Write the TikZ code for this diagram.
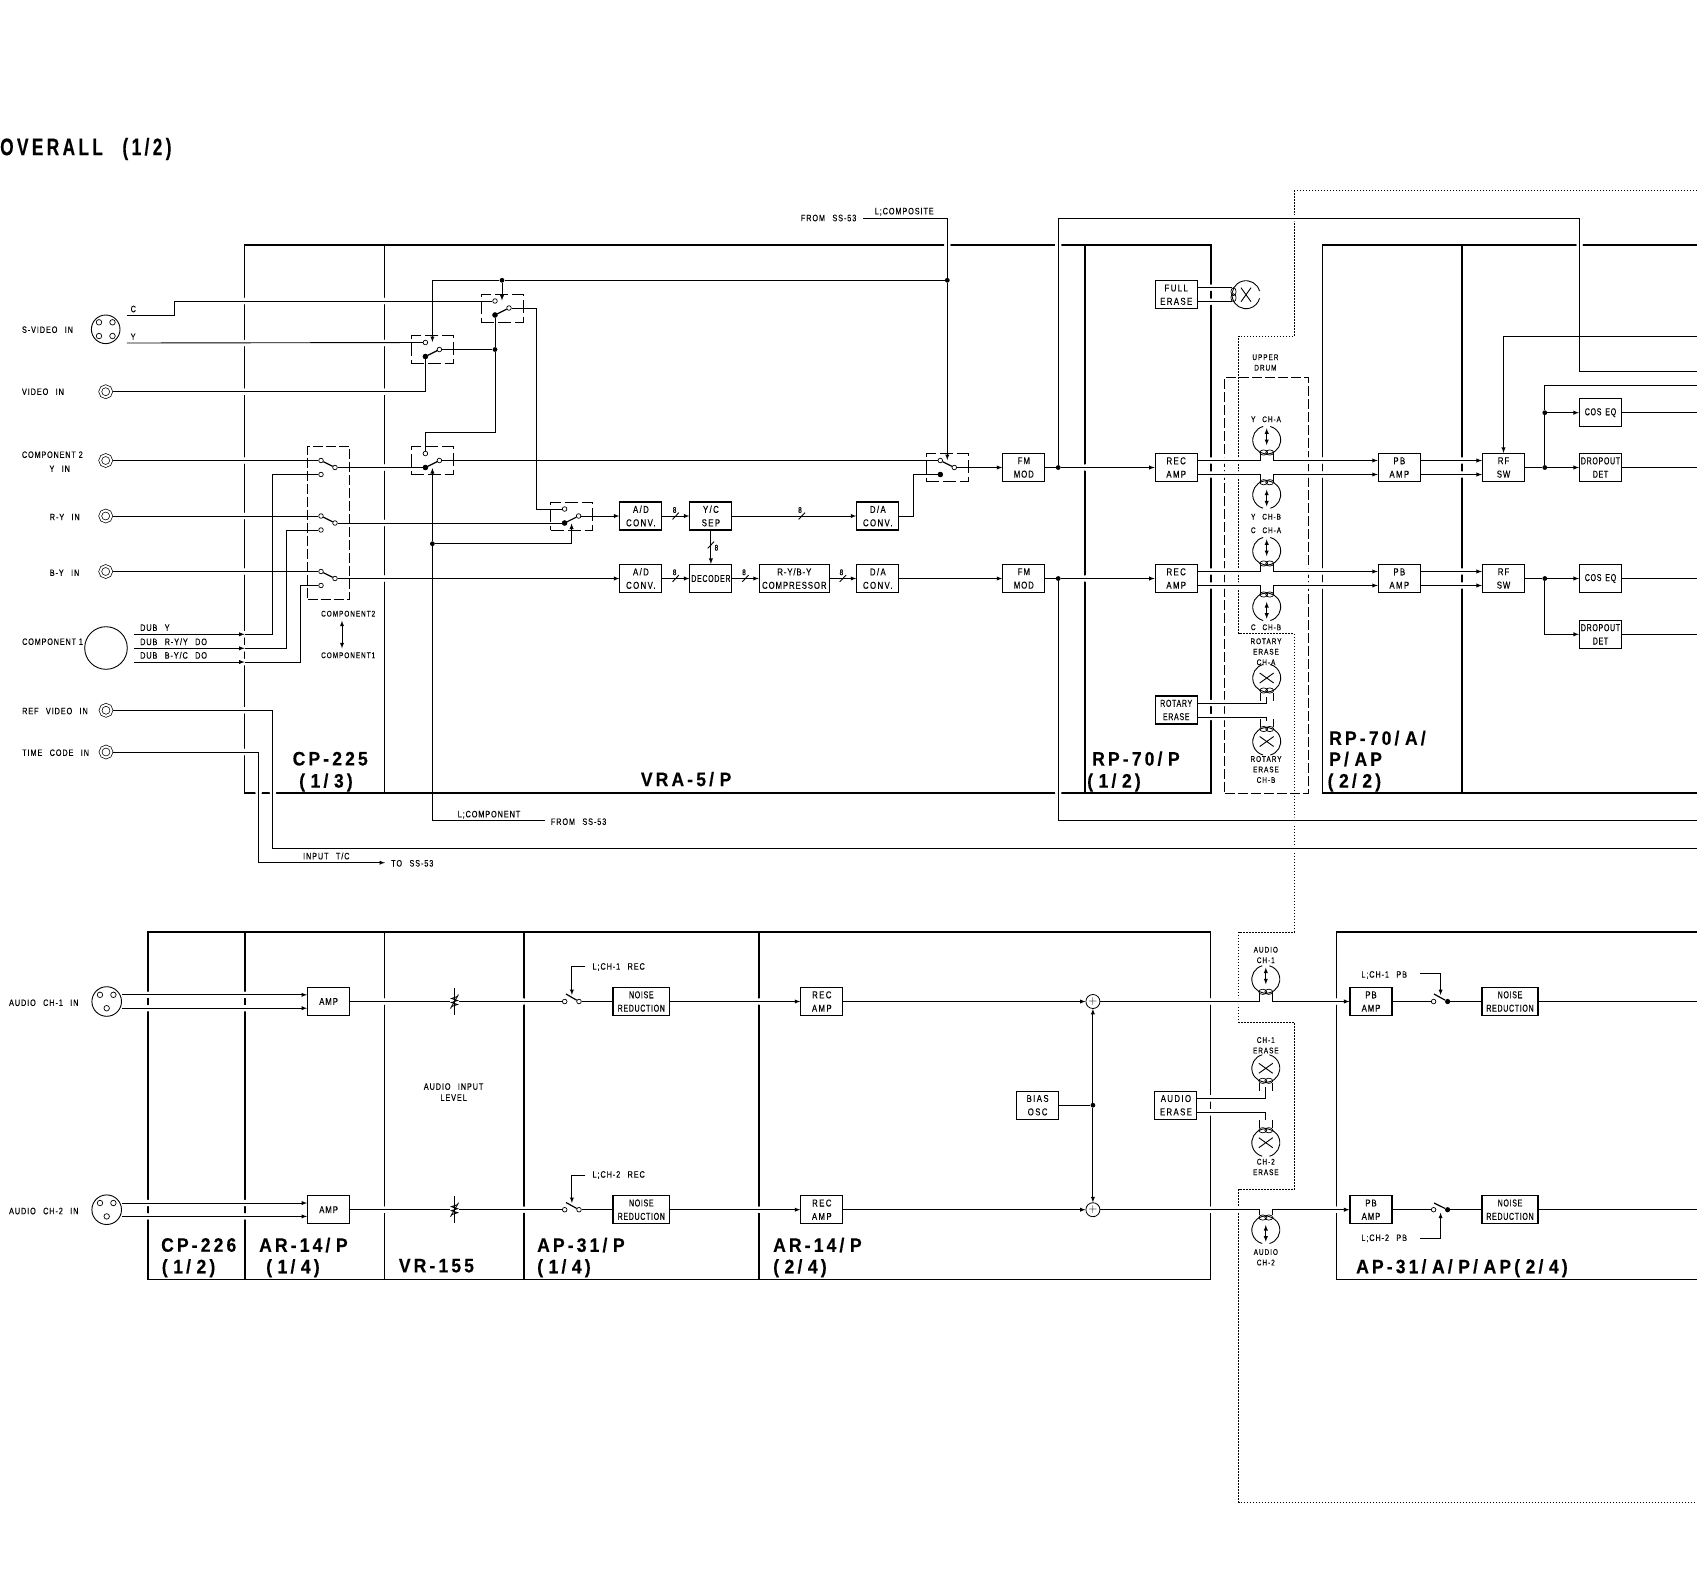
\documentclass[tikz,border=0pt]{standalone}
\usepackage{fontspec}
\usepackage{tikz}
\newfontfamily\lblfam[FakeStretch=0.78,LetterSpace=10,WordSpace=2.5,FakeBold=0.25]{Liberation Sans}
\newfontfamily\smlfam[FakeStretch=0.78,LetterSpace=12,WordSpace=2.5,FakeBold=0.2]{Liberation Sans}
\newfontfamily\blkfam[FakeStretch=0.78,LetterSpace=14,WordSpace=2,FakeBold=0.25]{Liberation Sans}
\newfontfamily\clofam[FakeStretch=0.78,LetterSpace=9,FakeBold=0.25]{Liberation Sans}
\newfontfamily\narfam[FakeStretch=0.70,LetterSpace=7,WordSpace=1.5,FakeBold=0.25]{Liberation Sans}
\newfontfamily\hdfam[FakeStretch=0.9,LetterSpace=16,WordSpace=0.7,FakeBold=0.3]{Liberation Sans}
\newfontfamily\ttlfam[FakeStretch=0.72,LetterSpace=14,WordSpace=2.4,FakeBold=0.3]{Liberation Sans}
\newcommand{\lblfont}{\fontsize{9.3}{11}\selectfont\lblfam}
\newcommand{\cpnfont}{\fontsize{9.3}{11}\selectfont\clofam}
\newcommand{\smlfont}{\fontsize{8.2}{10.5}\selectfont\smlfam}
\newcommand{\blkfont}{\fontsize{10}{13.4}\selectfont\blkfam}
\newcommand{\clofont}{\fontsize{10}{13.4}\selectfont\clofam}
\newcommand{\narfont}{\fontsize{10}{13.4}\selectfont\narfam}
\newcommand{\hdfont}{\fontsize{19.5}{22}\selectfont\hdfam\bfseries}
\newcommand{\ttlfont}{\fontsize{24}{26}\selectfont\ttlfam\bfseries}

\tikzset{
  head line/.style={line width=.9pt},
  tape spot/.style={circle,inner sep=0pt,minimum size=28pt}
}
% switch: box and its three contacts
\newcommand{\swbox}[3]{%
  \node[switch box] (#1) at (#2,#3) {};
  \node[contact node] (#1a) at (#2-7,#3-7) {};
  \node[contact node] (#1b) at (#2-7,#3+7) {};
  \node[contact node] (#1c) at (#2+7,#3) {};
  \coordinate (#1t) at (#2,#3-7.5);
  \coordinate (#1u) at (#2,#3+7.5);
}
% tape head: open circle and gap lens, turned by #4
\newcommand{\headbody}[4]{%
  \node[tape spot] (#1) at (#2,#3) {};
  \begin{scope}[shift={(#2,#3)},rotate=#4]
    \draw[head line] (105:14pt) arc[start angle=105,end angle=435,radius=14pt];
    \draw[line width=.7pt] (-3pt,-12.5pt) ellipse[x radius=4pt,y radius=2.6pt]
      (3pt,-12.5pt) ellipse[x radius=4pt,y radius=2.6pt];
  \end{scope}
}
\newcommand{\rwhead}[4]{%
  \headbody{#1}{#2}{#3}{#4}
  \begin{scope}[shift={(#2,#3)},rotate=#4]
    \draw[head line,<->] (0pt,11.7pt) -- (0pt,-5pt);
  \end{scope}
}
\newcommand{\erhead}[4]{%
  \headbody{#1}{#2}{#3}{#4}
  \begin{scope}[shift={(#2,#3)},rotate=#4]
    \draw[head line] (-7pt,-5pt) -- (7pt,5pt) (-7pt,5pt) -- (7pt,-5pt);
  \end{scope}
}
\newcommand{\ertick}[3]{%
  \begin{scope}[shift={(#1,#2)},rotate=#3]
    \draw[line width=.7pt] (-6.7pt,-15pt) -- (-6.7pt,-23pt) (6.7pt,-15pt) -- (6.7pt,-23pt);
  \end{scope}
}
% level pot on the audio line
\newcommand{\potsym}[3]{%
  \node[inner sep=0pt,minimum width=9pt,minimum height=27pt] (#1) at (#2,#3) {};
  \draw[wire] (#2,#3-13.5) -- (#2,#3+13.5);
  \draw[wire] (#2-3,#3+5) -- (#2+3,#3+3) -- (#2-3,#3+1) -- (#2+3,#3-1) -- (#2-3,#3-3) -- (#2+3,#3-5);
  \draw[wire] (#2-4,#3+7) -- (#2+4,#3-7);
}

\begin{document}
\begin{tikzpicture}[x=1pt,y=-1pt,>=latex,
    wire/.style={line width=.9pt,draw},
    frame line/.style={line width=1.6pt},
    arm/.style={line width=1.2pt},
    block node/.style={rectangle,draw,line width=1.1pt,inner sep=0pt,minimum width=42pt,
      minimum height=28pt,align=center,font=\blkfont},
    tight/.style={font=\narfont},
    close/.style={font=\clofont},
    contact node/.style={circle,draw,fill=white,line width=.7pt,inner sep=0pt,minimum size=4.6pt},
    pole node/.style={circle,fill=black,inner sep=0pt,minimum size=5.2pt},
    dot node/.style={circle,fill=black,inner sep=0pt,minimum size=4.8pt},
    jack node/.style={circle,draw,line width=.7pt,double,double distance=2pt,inner sep=0pt,
      minimum size=11pt,outer sep=1.5pt},
    conn node/.style={circle,draw,line width=.9pt,inner sep=0pt},
    pin node/.style={circle,draw,line width=.7pt,inner sep=0pt,minimum size=5.5pt},
    sum node/.style={circle,draw,line width=.8pt,inner sep=0pt,minimum size=14pt,
      font=\fontsize{12}{12}\selectfont},
    switch box/.style={rectangle,draw,line width=1pt,dash pattern=on 13pt off 4pt,inner sep=0pt,
      minimum width=42pt,minimum height=28pt},
    dash box/.style={rectangle,draw,line width=.9pt,dash pattern=on 10pt off 3pt,inner sep=0pt},
    dot line/.style={line width=.7pt,dash pattern=on 1.5pt off 1.5pt},
    label node/.style={font=\lblfont,inner sep=0pt,anchor=west},
    small node/.style={font=\smlfont,inner sep=0pt,align=center},
    bus node/.style={font=\smlfont,inner sep=0pt},
    head node/.style={font=\hdfont,inner sep=0pt,anchor=west}]

  \useasboundingbox (0,0) rectangle (1697,1588);
  \coordinate (rightedge) at (1697,0);

  \node[font=\ttlfont,inner sep=0pt,anchor=west] (title) at (0,149) {OVERALL (1/2)};

  % frames
  \draw[frame line] (244.6,245) rectangle (1211,792.7);
  \draw[frame line] (384.3,245) -- (384.3,792.7);
  \draw[frame line] (1085.2,245) -- (1085.2,792.7);
  \draw[frame line] (1697,245) -- (1322.4,245) -- (1322.4,792.7) -- (1697,792.7);
  \draw[frame line] (1461.9,245) -- (1461.9,792.7);
  \draw[frame line] (147.8,932) rectangle (1210.5,1279.3);
  \foreach \fx in {245,384.4,523.7,759.1}
    \draw[frame line] (\fx,932) -- (\fx,1279.3);
  \draw[frame line] (1697,932) -- (1336.4,932) -- (1336.4,1279.3) -- (1697,1279.3);

  \node[dash box,minimum width=83.7pt,minimum height=415.7pt] (drum) at (1266.65,585.15) {};
  \node[dash box,minimum width=41.8pt,minimum height=152.6pt] (sel) at (328.4,523) {};
  \draw[dot line] (1697,190.7) -- (1294.3,190.7) -- (1294.3,336) -- (1238.6,336) -- (1238.6,633.5)
    -- (1294.3,633.5) -- (1294.3,932) -- (1238.5,932) -- (1238.5,1022) -- (1294.3,1022)
    -- (1294.3,1189.3) -- (1238.5,1189.3) -- (1238.5,1502) -- (1697,1502);

  % breaks where wires cross the frames
  \foreach \gx/\gy in {244.6/301,244.6/343,244.6/391.7,244.6/460.5,244.6/516,244.6/571.5,
      244.6/634.3,244.6/648.3,244.6/662,244.6/710.3,244.6/752,
      258.6/792.7,272.9/792.7,1058.2/792.7,947.3/245,1058.2/245,1579.6/245,
      384.3/301,384.3/343,384.3/391.7,384.3/467.5,384.3/523,384.3/578.5,
      1085.2/467.5,1085.2/578.5,1211/287.7,1211/301.7,1211/460.5,1211/474.5,1211/571.5,1211/585.5,
      1211/703,1211/717,1224.8/460.5,1224.8/474.5,1224.8/571.5,1224.8/585.5,1224.8/703,1224.8/717,
      1238.6/460.5,1238.6/474.5,1238.6/571.5,1238.6/585.5,
      1308.5/460.5,1308.5/474.5,1308.5/571.5,1308.5/585.5,
      1322.4/460.5,1322.4/474.5,1322.4/571.5,1322.4/585.5,
      1461.9/460.5,1461.9/474.5,1461.9/571.5,1461.9/585.5,1294.3/218.3,1294.3/820.7,1294.3/848.3,
      147.8/994.8,147.8/1008.2,147.8/1203,147.8/1216.4,245/994.8,245/1008.2,245/1203,245/1216.4,
      384.4/1001.5,384.4/1209.7,523.7/1001.5,523.7/1209.7,759.1/1001.5,759.1/1209.7,
      1210.5/1001.5,1210.5/1098.3,1210.5/1112.3,1210.5/1209.7,
      1238.5/1001.5,1238.5/1209.7,1336.4/1001.5,1336.4/1209.7}
    \fill[white] (\gx,\gy) circle (3.3pt);

  % connectors on the left
  \node[conn node,minimum size=28.6pt] (svideo) at (105.7,329.3) {};
  \foreach \px/\py [count=\k] in {99/322.3,112.5/322.3,99/336,112.5/336}
    \node[pin node] (svpin\k) at (\px,\py) {};
  \node[jack node] (jvideo) at (105.7,391.7) {};
  \node[jack node] (jcomp) at (105.7,460.5) {};
  \node[jack node] (jry) at (105.7,516) {};
  \node[jack node] (jby) at (105.7,571.5) {};
  \node[conn node,minimum size=42.6pt] (compone) at (106,648) {};
  \node[jack node] (jref) at (106,710.3) {};
  \node[jack node] (jtime) at (106,752) {};
  \node[conn node,minimum size=29.6pt] (xlra) at (106.7,1001.5) {};
  \node[conn node,minimum size=29.6pt] (xlrb) at (106.7,1209.7) {};
  \foreach \py [count=\k] in {1001.5,1209.7} {
    \node[pin node] (xpl\k) at (100,\py-6.7) {};
    \node[pin node] (xpr\k) at (113.4,\py-6.7) {};
    \node[pin node] (xpb\k) at (106.7,\py+6.7) {};
  }

  \node[label node] (lsv) at (21.8,329.7) {S-VIDEO IN};
  \node[label node] (lvid) at (21.8,391.7) {VIDEO IN};
  \node[label node,font=\cpnfont] (lcomp) at (21.8,454.7) {COMPONENT 2};
  \node[label node] (lyin) at (49.3,468.7) {Y IN};
  \node[label node] (lry) at (49.6,517) {R-Y IN};
  \node[label node] (lby) at (49.6,572.7) {B-Y IN};
  \node[label node,font=\cpnfont] (lcone) at (22,641.7) {COMPONENT 1};
  \node[label node] (lref) at (22,711) {REF VIDEO IN};
  \node[label node] (ltc) at (22,752.7) {TIME CODE IN};
  \node[label node] (lc) at (130.5,309) {C};
  \node[label node] (ly) at (130.5,336.7) {Y};
  \node[label node] (ldy) at (140,627.7) {DUB Y};
  \node[label node] (ldr) at (140,641.7) {DUB R-Y/Y DO};
  \node[label node] (ldb) at (140,655.3) {DUB B-Y/C DO};
  \node[label node,font=\smlfont] (lctwo) at (321,613.7) {COMPONENT2};
  \node[label node,font=\smlfont] (lcon) at (321,655.3) {COMPONENT1};
  \node[label node] (laudone) at (8.9,1002.7) {AUDIO CH-1 IN};
  \node[label node] (laudtwo) at (8.9,1211) {AUDIO CH-2 IN};

  % switches
  \swbox{swc}{502}{308}
  \swbox{swy}{432.4}{349.5}
  \swbox{swp}{432.4}{460.5}
  \swbox{swr}{571.6}{516}
  \swbox{swf}{947.3}{467.5}
  \node[pole node] (pc) at (swcb) {};
  \node[pole node] (py) at (swyb) {};
  \node[pole node] (pp) at (swpb) {};
  \node[pole node] (pr) at (swrb) {};
  \node[pole node] (pf) at (swfb) {};
  \foreach \sy/\sn in {460.5/a,516/b,571.5/c} {
    \node[contact node] (sel\sn u) at (321,\sy) {};
    \node[contact node] (sel\sn l) at (321,\sy+14) {};
    \node[contact node] (sel\sn o) at (335,\sy+7) {};
    \draw[arm] (sel\sn u) -- (sel\sn o);
  }
  \draw[arm] (swcb) -- (swcc);
  \draw[arm] (swyb) -- (swyc);
  \draw[arm] (swpb) -- (swpc);
  \draw[arm] (swrb) -- (swrc);
  \draw[arm] (swfa) -- (swfc);

  % upper chain
  \node[block node] (ada) at (640.9,516) {A/D\\CONV.};
  \node[block node] (yc) at (710.9,516) {Y/C\\SEP};
  \node[block node] (daa) at (877.8,516) {D/A\\CONV.};
  \node[block node] (adb) at (640.9,578.5) {A/D\\CONV.};
  \node[block node,tight] (dec) at (710.9,578.5) {DECODER};
  \node[block node,close,minimum width=70pt] (rbcomp) at (794.3,578.5) {R-Y/B-Y\\COMPRESSOR};
  \node[block node] (dab) at (877.8,578.5) {D/A\\CONV.};
  \node[block node,close] (fma) at (1023.8,467.5) {FM\\MOD};
  \node[block node,close] (fmb) at (1023.8,578.5) {FM\\MOD};
  \node[block node] (fulle) at (1176.2,294.7) {FULL\\ERASE};
  \node[block node] (reca) at (1176.2,467.5) {REC\\AMP};
  \node[block node] (recb) at (1176.2,578.5) {REC\\AMP};
  \node[block node,tight] (rote) at (1176.2,710) {ROTARY\\ERASE};
  \node[block node] (pba) at (1399.3,467.5) {PB\\AMP};
  \node[block node] (pbb) at (1399.3,578.5) {PB\\AMP};
  \node[block node,close] (rfa) at (1503.5,467.5) {RF\\SW};
  \node[block node,close] (rfb) at (1503.5,578.5) {RF\\SW};
  \node[block node,tight] (cosa) at (1600.5,412.7) {COS EQ};
  \node[block node,tight] (dropa) at (1600.5,467.5) {DROPOUT\\DET};
  \node[block node,tight] (cosb) at (1600.5,578.5) {COS EQ};
  \node[block node,tight] (dropb) at (1600.5,634.3) {DROPOUT\\DET};

  \node[dot node] (dotv) at (495,349.5) {};
  \node[dot node] (dots) at (502,280.3) {};
  \node[dot node] (dotf) at (947.3,280.3) {};
  \node[dot node] (dotr) at (432.4,543.7) {};
  \node[dot node] (dotfa) at (1058.2,467.5) {};
  \node[dot node] (dotfb) at (1058.2,578.5) {};
  \node[dot node] (dotra) at (1544.8,467.5) {};
  \node[dot node] (dotrb) at (1544.8,412.7) {};
  \node[dot node] (dotsb) at (1544.8,578.5) {};

  \coordinate (cwire) at (126.8,315.3);
  \coordinate (ywire) at (126.8,343);
  \coordinate (bendv) at (495,432.7);
  \coordinate (dubas) at (134,634.3);
  \coordinate (dubbs) at (134,648.3);
  \coordinate (dubcs) at (134,662);
  \coordinate (dubam) at (244.6,634.3);
  \coordinate (dubbm) at (244.6,648.3);
  \coordinate (dubcm) at (244.6,662);
  \coordinate (compfrom) at (863.2,218);
  \coordinate (compofrom) at (544.6,820.7);
  \coordinate (tccorner) at (258.6,862.7);
  \coordinate (tcend) at (385,862.7);
  \coordinate (refcorner) at (272.9,848.3);
  \coordinate (refend) at (1697,848.3);
  \coordinate (topa) at (1579.6,218.3);
  \coordinate (topb) at (1697,371.3);
  \coordinate (botb) at (1697,820.7);
  \coordinate (rfin) at (1697,336.3);
  \coordinate (eqin) at (1697,385);
  \coordinate (arrowtop) at (342,620.7);
  \coordinate (arrowbot) at (342,648.3);

  \draw[wire] (cwire) -- ++(47.8,0) |- (swca);
  \path[wire] (ywire) edge (swya);
  \draw[wire] (jvideo) -| (swyb);
  \path[wire] (jcomp) edge (selau) (jry) edge (selbu) (jby) edge (selcu)
    (selao) edge (swpb) (selbo) edge (swrb) (swyc) edge (dotv) (dotv) edge (swcb)
    (swpc) edge (swfa);
  \draw[wire] (swpa) |- (bendv) -- (dotv);
  \draw[wire] (swcc) -- ++(27.7,0) |- (swra);
  \draw[wire,->] (dubas) -- (dubam);
  \draw[wire,->] (dubbs) -- (dubbm);
  \draw[wire,->] (dubcs) -- (dubcm);
  \draw[wire] (dubam) -- ++(27.9,0) |- (selal);
  \draw[wire] (dubbm) -- ++(41.8,0) |- (selbl);
  \draw[wire] (dubcm) -- ++(55.8,0) |- (selcl);
  \draw[wire] (compfrom) -| (dotf);
  \draw[wire,->] (dotf) -- (swft);
  \draw[wire] (dotf) -- (dots);
  \draw[wire,->] (dots) -- (swct);
  \draw[wire,->] (dots) -| (swyt);
  \draw[wire] (compofrom) -| (dotr);
  \draw[wire,->] (dotr) -- (swpu);
  \draw[wire,->] (dotr) -| (swru);
  \draw[wire] (jref) -| (refcorner) -- (refend);
  \draw[wire,->] (jtime) -| (tccorner) -- (tcend);

  \path[wire,->] (swrc) edge (ada) (ada) edge (yc) (yc) edge (daa) (yc) edge (dec)
    (selco) edge (adb) (adb) edge (dec) (dec) edge (rbcomp) (rbcomp) edge (dab) (dab) edge (fmb)
    (swfc) edge (fma) (dotfa) edge (reca) (dotfb) edge (recb);
  \draw[wire] (daa.east) -- ++(14,0) |- (swfb);
  \path[wire] (fma) edge (dotfa) (fmb) edge (dotfb);
  \draw[wire] (dotfa) |- (topa) |- (topb);
  \draw[wire] (dotfb) |- (botb);

  \foreach \bx/\by in {675.7/516,801.8/516,710.9/545,675.7/578.5,745.4/578.5,842.9/578.5}
    \draw[wire] (\bx,\by) ++(-3.2,3.4) -- ++(6.4,-6.8);
  \foreach \bx/\by [count=\k] in {674.6/510,800/510,716.4/547.7,674.6/572.3,744/572.3,841.4/572.3}
    \node[bus node] (bus\k) at (\bx,\by) {8};
  \draw[wire,<->] (arrowtop) -- (arrowbot);

  % upper drum heads
  \rwhead{yah}{1266.7}{440}{0}
  \rwhead{ybh}{1266.7}{494.7}{180}
  \rwhead{cah}{1266.7}{551}{0}
  \rwhead{cbh}{1266.7}{607}{180}
  \erhead{fullh}{1246}{294.7}{-90}
  \erhead{rah}{1266.7}{678}{0}
  \erhead{rbh}{1266.7}{741.5}{180}
  \ertick{1266.7}{678}{0}
  \ertick{1266.7}{741.5}{180}
  \foreach \hn/\hx/\hy in {ya/1266.7/452.7,yb/1266.7/482.7,ca/1266.7/563.7,cb/1266.7/595,
      ac/1265.8/993.3,ad/1265.8/1215} {
    \coordinate (\hn l) at (\hx-6.7,\hy);
    \coordinate (\hn r) at (\hx+6.7,\hy);
  }
  \coordinate (rotu) at (1266.7,696.7);
  \coordinate (rotd) at (1266.7,720.7);

  \draw[wire] ([yshift=7pt]reca.east) -| (yal);
  \draw[wire] ([yshift=-7pt]reca.east) -| (ybl);
  \draw[wire] ([yshift=7pt]recb.east) -| (cal);
  \draw[wire] ([yshift=-7pt]recb.east) -| (cbl);
  \draw[wire,->] (yar) |- ([yshift=7pt]pba.west);
  \draw[wire,->] (ybr) |- ([yshift=-7pt]pba.west);
  \draw[wire,->] (car) |- ([yshift=7pt]pbb.west);
  \draw[wire,->] (cbr) |- ([yshift=-7pt]pbb.west);
  \draw[wire,->] ([yshift=7pt]pba.east) -- ([yshift=7pt]rfa.west);
  \draw[wire,->] ([yshift=-7pt]pba.east) -- ([yshift=-7pt]rfa.west);
  \draw[wire,->] ([yshift=7pt]pbb.east) -- ([yshift=7pt]rfb.west);
  \draw[wire,->] ([yshift=-7pt]pbb.east) -- ([yshift=-7pt]rfb.west);
  \draw[wire] ([yshift=7pt]fulle.east) -- ([yshift=7pt]fullh.west);
  \draw[wire] ([yshift=-7pt]fulle.east) -- ([yshift=-7pt]fullh.west);
  \draw[wire] ([yshift=7pt]rote.east) -| (rotu);
  \draw[wire] ([yshift=-7pt]rote.east) -| (rotd);

  \draw[wire,->] (rfin) -| (rfa);
  \path[wire] (rfa) edge (dotra) (rfb) edge (dotsb) (dotra) edge (dotrb);
  \path[wire,->] (dotra) edge (dropa) (dotrb) edge (cosa) (dotsb) edge (cosb);
  \draw[wire] (dotrb) |- (eqin);
  \draw[wire,->] (dotsb) |- (dropb);
  \foreach \bn in {cosa,dropa,cosb,dropb}
    \draw[wire] (\bn) -- (\bn -| rightedge);

  \node[small node] (udrum) at (1265.4,362.5) {UPPER\\DRUM};
  \node[small node] (lyah) at (1266,419.3) {Y CH-A};
  \node[small node] (lybh) at (1266,516.7) {Y CH-B};
  \node[small node] (lcah) at (1266,530.3) {C CH-A};
  \node[small node] (lcbh) at (1266,627.3) {C CH-B};
  \node[small node] (lrah) at (1266,651.8) {ROTARY\\ERASE\\CH-A};
  \node[small node] (lrbh) at (1266,769.5) {ROTARY\\ERASE\\CH-B};

  \node[label node] (lfrom) at (800.7,218) {FROM SS-53};
  \node[label node] (lcompo) at (874.6,211.7) {L;COMPOSITE};
  \node[label node] (lcpn) at (457.5,814.7) {L;COMPONENT};
  \node[label node] (lfromb) at (550.7,821.7) {FROM SS-53};
  \node[label node] (linp) at (302.9,856) {INPUT T/C};
  \node[label node] (lto) at (391,863.3) {TO SS-53};

  \node[head node] (hcp) at (292.5,758.7) {CP-225};
  \node[head node] (hcpn) at (299,782.5) {( 1/ 3)};
  \node[head node] (hvra) at (640.7,779.2) {VRA-5/ P};
  \node[head node] (hrp) at (1092,758.7) {RP-70/ P};
  \node[head node] (hrpn) at (1087,782.5) {( 1/ 2)};
  \node[head node] (hrq) at (1329,738) {RP-70/ A/};
  \node[head node] (hrqa) at (1329,759) {P/ AP};
  \node[head node] (hrqn) at (1327.4,782.5) {( 2/ 2)};

  % audio section
  \node[block node,close] (ampa) at (328.6,1001.5) {AMP};
  \node[block node,close] (ampb) at (328.6,1209.7) {AMP};
  \potsym{pota}{454.5}{1001.5}
  \potsym{potb}{454.5}{1209.7}
  \node[contact node] (sral) at (564.7,1001.5) {};
  \node[contact node] (srar) at (579,1001.5) {};
  \node[contact node] (srbl) at (564.7,1209.7) {};
  \node[contact node] (srbr) at (579,1209.7) {};
  \coordinate (srat) at (566,994);
  \coordinate (srbt) at (566,1202.5);
  \draw[arm] (srar) -- (srat);
  \draw[arm] (srbr) -- (srbt);
  \node[block node,minimum width=56.7pt,tight] (nra) at (641.3,1001.5) {NOISE\\REDUCTION};
  \node[block node,minimum width=56.7pt,tight] (nrb) at (641.3,1209.7) {NOISE\\REDUCTION};
  \node[block node] (raa) at (821.8,1001.5) {REC\\AMP};
  \node[block node] (rab) at (821.8,1209.7) {REC\\AMP};
  \node[sum node] (suma) at (1092.9,1001.5) {+};
  \node[sum node] (sumb) at (1092.9,1209.7) {+};
  \node[dot node] (dotb) at (1092.9,1105.2) {};
  \node[block node] (bias) at (1037.6,1105.2) {BIAS\\OSC};
  \node[block node] (aerase) at (1175.9,1105.2) {AUDIO\\ERASE};
  \node[block node,close] (ppa) at (1371,1001.5) {PB\\AMP};
  \node[block node,close] (ppb) at (1371,1209.7) {PB\\AMP};
  \node[contact node] (spal) at (1433.6,1001.5) {};
  \node[pole node] (spar) at (1447.6,1001.5) {};
  \node[contact node] (spbl) at (1433.6,1209.7) {};
  \node[pole node] (spbr) at (1447.6,1209.7) {};
  \coordinate (spat) at (1434,994);
  \coordinate (spbt) at (1434,1203);
  \draw[arm] (spar) -- (spat);
  \draw[arm] (spbr) -- (spbt);
  \node[block node,minimum width=56pt,tight] (nqa) at (1510,1001.5) {NOISE\\REDUCTION};
  \node[block node,minimum width=56pt,tight] (nqb) at (1510,1209.7) {NOISE\\REDUCTION};

  \rwhead{aah}{1265.8}{979.3}{0}
  \rwhead{abh}{1265.8}{1230}{180}
  \erhead{eah}{1265.8}{1068.3}{0}
  \erhead{ebh}{1265.8}{1142.7}{180}
  \ertick{1265.8}{1068.3}{0}
  \ertick{1265.8}{1142.7}{180}
  \coordinate (eru) at (1265.8,1086.7);
  \coordinate (erd) at (1265.8,1120);

  \draw[wire,->] ([yshift=6.7pt]xlra.east) -- ([yshift=6.7pt]ampa.west);
  \draw[wire,->] ([yshift=-6.7pt]xlra.east) -- ([yshift=-6.7pt]ampa.west);
  \draw[wire,->] ([yshift=6.7pt]xlrb.east) -- ([yshift=6.7pt]ampb.west);
  \draw[wire,->] ([yshift=-6.7pt]xlrb.east) -- ([yshift=-6.7pt]ampb.west);
  \path[wire] (ampa) edge (pota) (pota) edge (sral) (srar) edge (nra)
    (ampb) edge (potb) (potb) edge (srbl) (srbr) edge (nrb)
    (bias) edge (dotb) (ppa) edge (spal) (spar) edge (nqa) (ppb) edge (spbl) (spbr) edge (nqb);
  \path[wire,->] (nra) edge (raa) (nrb) edge (rab) (raa) edge (suma) (rab) edge (sumb)
    (dotb) edge (suma) (dotb) edge (sumb);
  \draw[wire] (suma) -| (acl);
  \draw[wire] (sumb) -| (adl);
  \draw[wire,->] (acr) |- (ppa);
  \draw[wire,->] (adr) |- (ppb);
  \draw[wire] ([yshift=7pt]aerase.east) -| (eru);
  \draw[wire] ([yshift=-7pt]aerase.east) -| (erd);
  \draw[wire] (nqa) -- (nqa -| rightedge);
  \draw[wire] (nqb) -- (nqb -| rightedge);

  \coordinate (lrecaf) at (585.3,966.7);
  \coordinate (lrecat) at (571.9,995);
  \coordinate (lrecbf) at (585.3,1175);
  \coordinate (lrecbt) at (571.9,1203);
  \coordinate (lpbaf) at (1420.3,973.3);
  \coordinate (lpbat) at (1440.6,995);
  \coordinate (lpbbf) at (1420.3,1238.3);
  \coordinate (lpbbt) at (1440.6,1212.7);
  \draw[wire,->] (lrecaf) -| (lrecat);
  \draw[wire,->] (lrecbf) -| (lrecbt);
  \draw[wire,->] (lpbaf) -| (lpbat);
  \draw[wire,->] (lpbbf) -| (lpbbt);

  \node[label node] (lla) at (592.4,967) {L;CH-1 REC};
  \node[label node] (llb) at (592.4,1175) {L;CH-2 REC};
  \node[label node] (llc) at (1361.2,975) {L;CH-1 PB};
  \node[label node] (lld) at (1361.2,1238.3) {L;CH-2 PB};
  \node[small node,font=\lblfont] (laudlev) at (453.6,1092) {AUDIO INPUT\\LEVEL};
  \node[small node] (laac) at (1265.8,955) {AUDIO\\CH-1};
  \node[small node] (lach) at (1265.8,1045.3) {CH-1\\ERASE};
  \node[small node] (lbch) at (1265.8,1167) {CH-2\\ERASE};
  \node[small node] (lbac) at (1265.8,1257.3) {AUDIO\\CH-2};

  \node[head node] (hcpa) at (161,1245) {CP-226};
  \node[head node] (hcpb) at (161.6,1268.2) {( 1/ 2)};
  \node[head node] (hara) at (259,1245) {AR-14/ P};
  \node[head node] (harb) at (266,1268.2) {( 1/ 4)};
  \node[head node] (hvr) at (398.7,1265.7) {VR-155};
  \node[head node] (hapa) at (537,1245) {AP-31/ P};
  \node[head node] (hapb) at (537,1268.2) {( 1/ 4)};
  \node[head node] (harc) at (773,1245) {AR-14/ P};
  \node[head node] (hard) at (773,1268.2) {( 2/ 4)};
  \node[head node] (hape) at (1356,1268.2) {AP-31/ A/ P/ AP( 2/ 4)};

\end{tikzpicture}
\end{document}
